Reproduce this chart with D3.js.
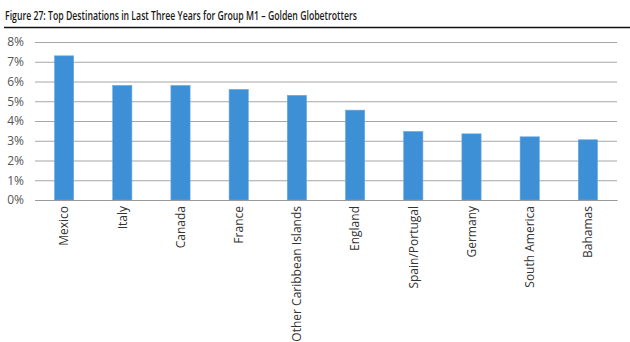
<!DOCTYPE html>
<html><head><meta charset="utf-8">
<script src="https://cdn.jsdelivr.net/npm/d3@7"></script>
<style>body{margin:0;background:#fff}svg{display:block}</style>
</head><body>
<svg id="c" width="630" height="342"></svg>
<script>
const title = "Figure 27: Top Destinations in Last Three Years for Group M1 \u2013 Golden Globetrotters";
const categories = ["Mexico","Italy","Canada","France","Other Caribbean Islands","England","Spain/Portugal","Germany","South America","Bahamas"];
const values = [0.073,0.058,0.058,0.056,0.053,0.0455,0.0347,0.0335,0.032,0.0305];
const yTicks = [0,0.01,0.02,0.03,0.04,0.05,0.06,0.07,0.08];

const svg = d3.select("#c");
const m = {left:35, right:617, top:42, bottom:200};

svg.append("text").attr("x",5).attr("y",19.5)
  .attr("font-family","'Open Sans','Liberation Sans',sans-serif")
  .attr("font-weight","600").attr("font-size",12.5).attr("fill","#1a1a1a")
  .attr("textLength",352).attr("lengthAdjust","spacingAndGlyphs")
  .text(title);
svg.append("line").attr("x1",4).attr("x2",630).attr("y1",27.5).attr("y2",27.5)
  .attr("stroke","#111").attr("stroke-width",1.3);

const x = d3.scaleBand().domain(categories).range([m.left,m.right]).paddingInner(0.67).paddingOuter(0.335);
const y = d3.scaleLinear().domain([0,0.08]).range([m.bottom,m.top]);

const yAxis = d3.axisLeft(y).tickValues(yTicks).tickFormat(d3.format(".0%")).tickSize(-(m.right-m.left)).tickPadding(11);
const gy = svg.append("g").attr("transform",`translate(${m.left},0)`).call(yAxis);
gy.select(".domain").remove();
gy.selectAll(".tick line").attr("stroke","#a6a6a6");
gy.selectAll(".tick text").attr("font-family","'Open Sans','DejaVu Sans',sans-serif").attr("font-size",12).attr("fill","#555");

svg.append("g").selectAll("rect").data(categories).join("rect")
  .attr("x",d=>x(d)).attr("width",x.bandwidth())
  .attr("y",(d,i)=>y(values[i])).attr("height",(d,i)=>y(0)-y(values[i]))
  .attr("fill","#3d8fd6").attr("stroke","#6aa9e0").attr("stroke-width",0.6);

const xAxis = d3.axisBottom(x).tickSize(0).tickPadding(5);
const gx = svg.append("g").attr("transform",`translate(0,${m.bottom})`).call(xAxis);
gx.select(".domain").attr("stroke","#999");
gx.selectAll(".tick text")
  .attr("font-family","'Open Sans','DejaVu Sans',sans-serif").attr("font-size",12).attr("fill","#333")
  .attr("transform","rotate(-90)").attr("text-anchor","end").attr("dy","0.35em").attr("x",-6).attr("y",0);
</script>
</body></html>
